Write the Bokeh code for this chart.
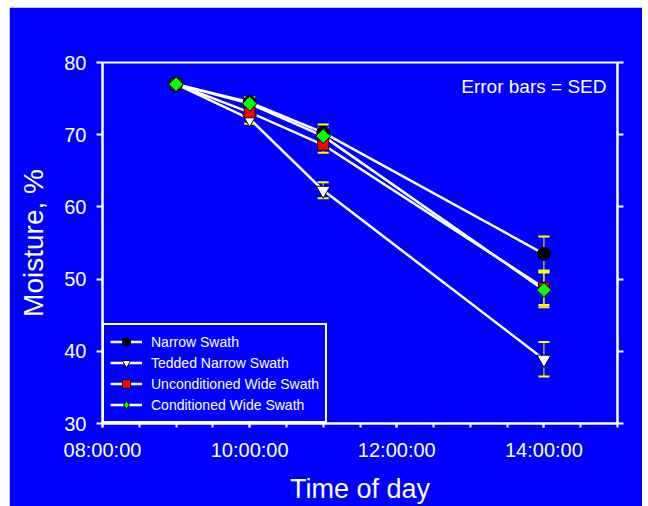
import numpy as np
from bokeh.plotting import figure
from bokeh.models import (ColumnDataSource, Whisker, TeeHead, LinearAxis, FixedTicker,
                          Legend, LegendItem, Range1d, Label, CustomJSTickFormatter)
from bokeh.embed import file_html
from bokeh.resources import INLINE

# ---- data ----
times = ["09:00:00", "10:00:00", "11:00:00", "14:00:00"]
narrow = [77.0, 74.5, 70.3, 53.5]
tedded = [77.0, 72.2, 62.3, 38.9]
uncond = [77.0, 73.1, 68.6, 48.8]
cond = [77.0, 74.3, 69.8, 48.5]
sed = [0.0, 0.7, 1.1, 2.4]

series_names = ["Narrow Swath", "Tedded Narrow Swath",
                "Unconditioned Wide Swath", "Conditioned Wide Swath"]
xtick_hours = [8, 10, 12, 14]
xtick_labels = ["08:00:00", "10:00:00", "12:00:00", "14:00:00"]
ytick_values = [30, 40, 50, 60, 70, 80]


def to_hours(t):
    h, m, s = map(int, t.split(":"))
    return h + m / 60 + s / 3600


hours = [to_hours(t) for t in times]

BLUE = "#0000FF"
FONT = "Liberation Sans"

p = figure(width=633, height=499, output_backend="svg", toolbar_location=None,
           x_range=Range1d(8, 15), y_range=Range1d(30, 80),
           min_border_left=93, min_border_right=25, min_border_top=55, min_border_bottom=83,
           background_fill_color=BLUE, border_fill_color=BLUE,
           outline_line_color="white", outline_line_width=2)
p.margin = (7, 0, 0, 9)
p.grid.visible = False

# x axis
xa = p.xaxis[0]
xa.ticker = FixedTicker(ticks=xtick_hours, minor_ticks=list(np.arange(8, 15.01, 0.5)))
xa.formatter = CustomJSTickFormatter(args=dict(vals=xtick_hours, labs=xtick_labels),
                                     code="const i = vals.indexOf(Math.round(tick*1000)/1000); return i >= 0 ? labs[i] : '';")
xa.axis_label = "Time of day"
# y axis
ya = p.yaxis[0]
ya.ticker = FixedTicker(ticks=ytick_values, minor_ticks=[])
ya.axis_label = "Moisture, %"

for ax in (xa, ya):
    ax.axis_line_color = "white"
    ax.axis_line_width = 2
    ax.major_tick_line_color = "white"
    ax.major_tick_line_width = 2
    ax.minor_tick_line_color = "white"
    ax.minor_tick_line_width = 2
    ax.major_tick_in = 0
    ax.minor_tick_in = 0
    ax.major_label_text_color = "white"
    ax.major_label_text_font = FONT
    ax.major_label_text_font_size = "20px"
    ax.axis_label_text_color = "white"
    ax.axis_label_text_font = FONT
    ax.axis_label_text_font_style = "normal"

xa.major_tick_out = 4
xa.minor_tick_out = 4
xa.major_label_standoff = 11
xa.axis_label_text_font_size = "27px"
xa.axis_label_standoff = 10
ya.major_tick_out = 6
ya.major_label_standoff = 10
ya.axis_label_text_font_size = "28px"
ya.axis_label_standoff = 12

ra = LinearAxis(ticker=FixedTicker(ticks=ytick_values, minor_ticks=[]),
                formatter=CustomJSTickFormatter(code="return '';"))
ra.axis_line_color = "white"
ra.axis_line_width = 2
ra.major_tick_line_color = "white"
ra.major_tick_line_width = 2
ra.major_tick_in = 0
ra.major_tick_out = 6
ra.major_label_standoff = 0
p.add_layout(ra, "right")

series = [
    (narrow, "circle", "black", 13, 0.0, "circle"),
    (tedded, "inverted_triangle", "white", 14, 0.0, "inverted_triangle"),
    (uncond, "square", "red", 11, 0.0, "square"),
    (cond, "square", "#00FF00", 10.5, np.pi / 4, "diamond"),
]

sources = []
line_rs = []
for vals, *_ in series:
    src = ColumnDataSource(dict(x=hours, y=vals,
                                upper=[v + e for v, e in zip(vals, sed)],
                                lower=[v - e for v, e in zip(vals, sed)]))
    sources.append(src)
    lr = p.line("x", "y", source=src, line_color="white", line_width=2.5, level="underlay")
    line_rs.append(lr)

for src in sources:
    w = Whisker(base="x", upper="upper", lower="lower", source=src,
                line_color="#FFFF00", line_width=1, level="underlay",
                upper_head=TeeHead(size=11, line_color="#FFFF00", line_width=2),
                lower_head=TeeHead(size=11, line_color="#FFFF00", line_width=2))
    p.add_layout(w)

items = []
for (vals, marker, fill, size, ang, lmarker), src, lr, name in zip(series, sources, line_rs, series_names):
    sr = p.scatter("x", "y", source=src, marker=marker, size=size, fill_color=fill,
                   line_color="black", line_width=1, angle=ang)
    if lmarker != marker:
        # legend-only glyph (an off-scale NaN point) to show the marker as a diamond
        sr_leg = p.scatter(x=[float("nan")], y=[float("nan")], marker=lmarker, size=size,
                           fill_color=fill, line_color="black", line_width=1)
        items.append(LegendItem(label=name, renderers=[lr, sr_leg]))
    else:
        items.append(LegendItem(label=name, renderers=[lr, sr]))

legend = Legend(items=items, location="bottom_left", margin=0,
                border_line_color="white", border_line_width=2, border_line_alpha=1,
                background_fill_color=BLUE, background_fill_alpha=1,
                label_text_color="white", label_text_font=FONT, label_text_font_size="14px",
                glyph_width=32, glyph_height=21, label_height=19, spacing=0,
                padding=6, label_standoff=9)
p.add_layout(legend)

p.add_layout(Label(x=14.85, y=76.7, text="Error bars = SED", text_align="right",
                   text_baseline="middle", text_color="white", text_font=FONT,
                   text_font_size="19px"))

open("out.html", "w").write(file_html(p, INLINE))
